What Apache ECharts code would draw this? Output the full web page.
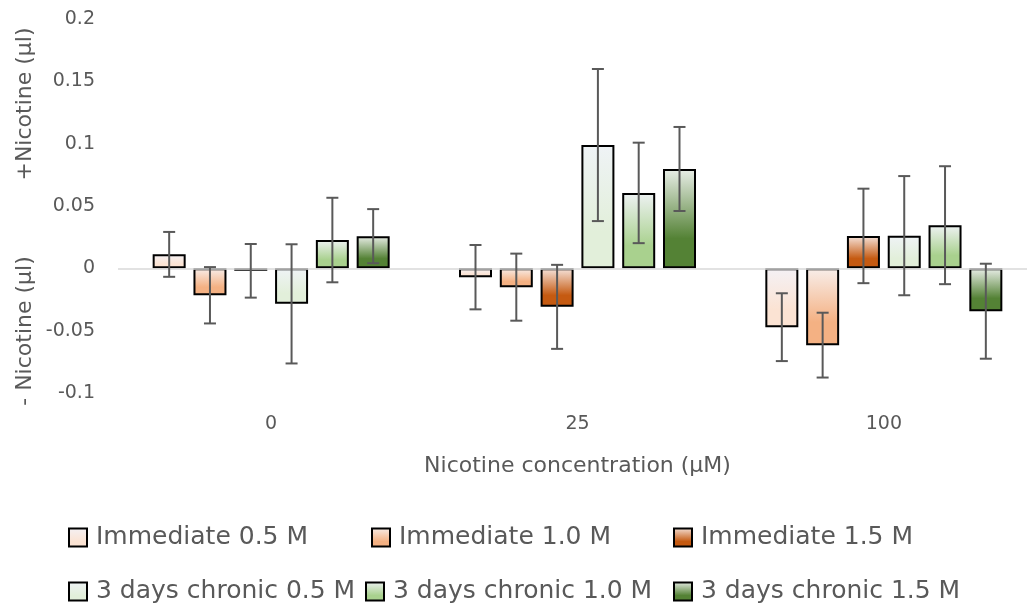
<!DOCTYPE html>
<html><head><meta charset="utf-8">
<script src="https://cdn.jsdelivr.net/npm/echarts@6/dist/echarts.min.js"></script>
<style>html,body{margin:0;padding:0;background:#fff}#c{width:1027px;height:610px}</style>
</head><body><div id="c"></div>
<script>
// ---- data ----
const categories = ['0', '25', '100'];
const seriesNames = ['Immediate 0.5 M', 'Immediate 1.0 M', 'Immediate 1.5 M',
  '3 days chronic 0.5 M', '3 days chronic 1.0 M', '3 days chronic 1.5 M'];
const immediate05 = [0.0112, -0.0071, -0.0472];
const immediate10 = [-0.0216, -0.0151, -0.0616];
const immediate15 = [-0.0020, -0.0309, 0.0260];
const chronic05 = [-0.0285, 0.0989, 0.0262];
const chronic10 = [0.0227, 0.0605, 0.0346];
const chronic15 = [0.0258, 0.0797, -0.0344];
const errImmediate05 = [0.0180, 0.0258, 0.0272];
const errImmediate10 = [0.0226, 0.0269, 0.0260];
const errImmediate15 = [0.0215, 0.0337, 0.0379];
const errChronic05 = [0.0478, 0.0610, 0.0478];
const errChronic10 = [0.0339, 0.0403, 0.0473];
const errChronic15 = [0.0217, 0.0337, 0.0381];
const yAxisTitlePlus = '+Nicotine (µl)';
const yAxisTitleMinus = '- Nicotine (µl)';
const xAxisTitle = 'Nicotine concentration (µM)';

const values = [immediate05, immediate10, immediate15, chronic05, chronic10, chronic15];
const errors = [errImmediate05, errImmediate10, errImmediate15, errChronic05, errChronic10, errChronic15];

// ---- style ----
const FONT = 'DejaVu Sans';
const TEXT = '#595959';
const BAR_W = 33, BAR_GAP = 7.8, CAP = 12;
const topColors = ['#f4f1f5', '#f8eeea', '#f6e4dc', '#eff3f6', '#eef2f3', '#e9eee8'];
const mainColors = ['#fbe3d3', '#f4b183', '#c55a11', '#e2efda', '#a9d18e', '#548235'];
const LEG_X = [68, 371, 673, 68, 365, 673];
const LEG_Y = [525, 525, 525, 579, 579, 579];

function grad(i) {
  return { type: 'linear', x: 0, y: 0, x2: 0, y2: 1, colorStops: [
    { offset: 0, color: topColors[i] },
    { offset: 0.7, color: mainColors[i] },
    { offset: 1, color: mainColors[i] }] };
}

const errData = [];
values.forEach((arr, s) => arr.forEach((v, c) => {
  errData.push([c, s, v - errors[s][c], v + errors[s][c]]);
}));

const barSeries = seriesNames.map((name, i) => ({
  name, type: 'bar', data: values[i], barWidth: BAR_W,
  barGap: (BAR_GAP / BAR_W * 100) + '%',
  itemStyle: { color: grad(i), borderColor: '#000', borderWidth: 2 },
  z: 2
}));
barSeries[5].markLine = {
  silent: true, symbol: 'none', label: { show: false },
  lineStyle: { color: '#d9d9d9', width: 1.5, type: 'solid' },
  data: [{ yAxis: 0 }], animation: false
};

const chart = echarts.init(document.getElementById('c'));
chart.setOption({
  animation: false,
  textStyle: { fontFamily: FONT },
  grid: { left: 118, top: 19, width: 919, height: 374, outerBoundsMode: 'none', containLabel: false },
  xAxis: {
    type: 'category', data: categories,
    axisLine: { show: false }, axisTick: { show: false },
    axisLabel: { fontSize: 19, color: TEXT, margin: 22, fontFamily: FONT },
    name: xAxisTitle, nameLocation: 'middle', nameGap: 62,
    nameTextStyle: { fontSize: 22, color: TEXT, fontFamily: FONT }
  },
  yAxis: {
    type: 'value', min: -0.1, max: 0.2, interval: 0.05,
    axisLine: { show: false }, axisTick: { show: false }, splitLine: { show: false },
    axisLabel: { fontSize: 19, color: TEXT, margin: 23, fontFamily: FONT }
  },
  legend: seriesNames.map((n, i) => ({
    data: [n], left: LEG_X[i], top: LEG_Y[i], padding: 0, selectedMode: false,
    icon: 'rect', itemWidth: 18, itemHeight: 18,
    textStyle: { fontSize: 25, color: TEXT, fontFamily: FONT, padding: [0, 0, 0, 4] }
  })),
  graphic: [
    { type: 'text', x: 25, y: 104, rotation: Math.PI / 2,
      style: { text: yAxisTitlePlus, fontSize: 22, fill: TEXT, fontFamily: FONT, align: 'center', verticalAlign: 'middle' } },
    { type: 'text', x: 25, y: 331, rotation: Math.PI / 2,
      style: { text: yAxisTitleMinus, fontSize: 22, fill: TEXT, fontFamily: FONT, align: 'center', verticalAlign: 'middle' } }
  ],
  series: barSeries.concat([{
    type: 'custom', data: errData, z: 5, silent: true,
    encode: { x: 0, y: [2, 3] },
    renderItem(params, api) {
      const c = api.value(0), s = api.value(1);
      const pLo = api.coord([c, api.value(2)]);
      const pHi = api.coord([c, api.value(3)]);
      const x = pLo[0] + (s - 2.5) * (BAR_W + BAR_GAP);
      const st = { stroke: '#595959', lineWidth: 2 };
      return { type: 'group', children: [
        { type: 'line', shape: { x1: x, y1: pHi[1], x2: x, y2: pLo[1] }, style: st },
        { type: 'line', shape: { x1: x - CAP / 2, y1: pHi[1], x2: x + CAP / 2, y2: pHi[1] }, style: st },
        { type: 'line', shape: { x1: x - CAP / 2, y1: pLo[1], x2: x + CAP / 2, y2: pLo[1] }, style: st }
      ] };
    }
  }])
});
</script></body></html>
